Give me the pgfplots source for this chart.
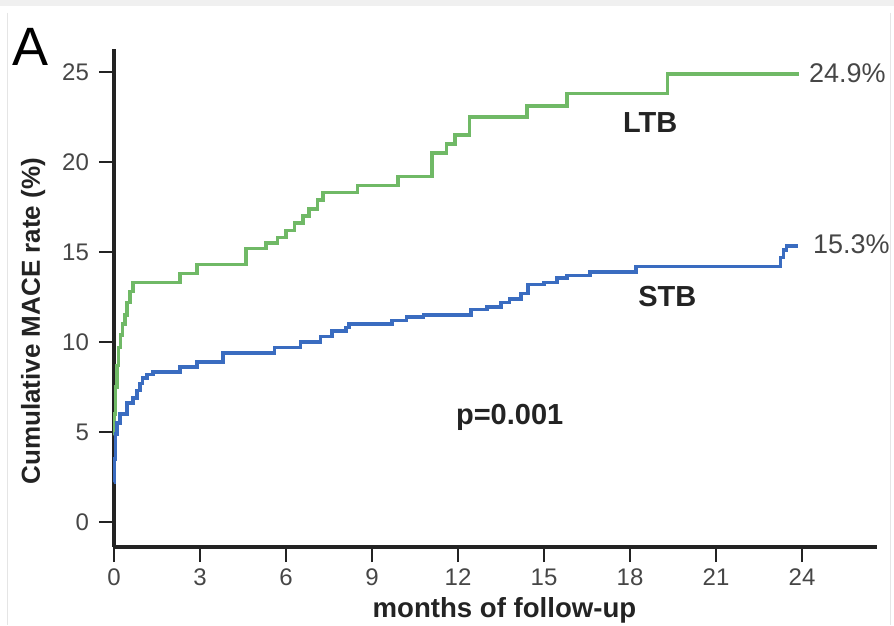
\documentclass[border=0pt]{standalone}
\usepackage{fontspec}
\setmainfont{Liberation Sans}
\usepackage{pgfplots}
\pgfplotsset{compat=1.18}
\definecolor{ltb}{RGB}{112,185,102}
\definecolor{stb}{RGB}{58,108,192}
\definecolor{axc}{RGB}{35,35,35}
\definecolor{tkc}{RGB}{70,70,70}
\begin{document}
\begin{tikzpicture}
\begin{axis}[
 scale only axis, width=381.3pt, height=249.2pt,
 xmin=0, xmax=26.6, ymin=-1.39, ymax=26.3,
 axis lines=left, axis line style={-, line width=1.6pt, color=axc},
 xtick={0,3,...,24}, ytick={0,5,...,25},
 tick align=outside, major tick length=7.5pt,
 tick style={line width=1.4pt, color=axc},
 /pgf/number format/assume math mode=true,
 tick label style={font=\fontsize{12}{14}\selectfont, color=tkc},
 yticklabel style={xshift=-1.5pt},
 xlabel={months of follow-up}, ylabel={Cumulative MACE rate (\%)},
 xlabel style={at={(axis description cs:0.512,-0.1265)}, anchor=center, font=\fontsize{13.8}{16}\selectfont\bfseries, color=axc},
 ylabel style={at={(axis description cs:-0.106,0.453)}, anchor=center, font=\fontsize{13}{15}\selectfont\bfseries, color=axc},
 clip=false,
]
\addplot[const plot, color=ltb, line width=1.8pt] coordinates {
(0,4.8) (0.02,6) (0.05,7.5) (0.1,8.7) (0.16,9.7) (0.23,10.4) (0.3,11.0) (0.38,11.5)
(0.46,12.2) (0.55,12.8) (0.66,13.3) (2.3,13.8) (2.9,14.3) (4.6,15.2) (5.3,15.5)
(5.7,15.8) (6.0,16.2) (6.3,16.6) (6.6,17.0) (6.8,17.4) (7.1,17.9) (7.3,18.3)
(8.5,18.7) (9.9,19.2) (11.1,20.5) (11.6,21.0) (11.9,21.5) (12.4,22.5) (14.4,23.1)
(15.8,23.8) (19.3,24.9) (23.9,24.9)
};
\addplot[const plot, color=stb, line width=1.8pt] coordinates {
(0,2.2) (0.02,3.5) (0.05,4.9) (0.1,5.5) (0.2,6.0) (0.45,6.6) (0.66,6.9) (0.8,7.3)
(0.9,7.7) (1.0,8.0) (1.15,8.2) (1.37,8.35) (2.3,8.6) (2.9,8.9) (3.8,9.4) (5.6,9.7)
(6.5,10.0) (7.2,10.3) (7.6,10.6) (8.1,10.8) (8.2,11.0) (9.7,11.2) (10.2,11.4)
(10.8,11.5) (12.45,11.8) (13.0,11.95) (13.5,12.2) (13.8,12.4) (14.2,12.7)
(14.45,13.2) (15.0,13.3) (15.45,13.55) (15.8,13.7) (16.6,13.9) (18.2,14.2)
(23.25,14.7) (23.35,15.1) (23.45,15.35) (23.85,15.35)
};
\node[anchor=west, font=\fontsize{13.5}{16}\selectfont, color=tkc] at (axis cs:24.0,24.95) {24.9\%};
\node[anchor=west, font=\fontsize{13.5}{16}\selectfont, color=tkc] at (axis cs:24.14,15.45) {15.3\%};
\node[font=\fontsize{14.5}{17}\selectfont\bfseries, color=axc] at (axis cs:18.7,22.2) {LTB};
\node[font=\fontsize{14.5}{17}\selectfont\bfseries, color=axc] at (axis cs:19.3,12.5) {STB};
\node[font=\fontsize{14.5}{17}\selectfont\bfseries, color=axc] at (axis cs:13.8,5.8) {p=0.001};
\node[font=\fontsize{27}{30}\selectfont, color=black] at (axis cs:-2.9,26.4) {A};
\fill[gray!12] (axis cs:-3.976,29.0) rectangle (axis cs:27.206,28.67);
\draw[gray!20, line width=0.5pt] (axis cs:-3.70,28.3) -- (axis cs:-3.70,-5.722);
\draw[gray!20, line width=0.5pt] (axis cs:27.10,28.3) -- (axis cs:27.10,-5.722);
\coordinate (bl) at (axis cs:-3.976,-5.722);
\coordinate (tr) at (axis cs:27.206,29.0);
\end{axis}
\pgfresetboundingbox
\path[use as bounding box] (bl) rectangle (tr);
\end{tikzpicture}
\end{document}
